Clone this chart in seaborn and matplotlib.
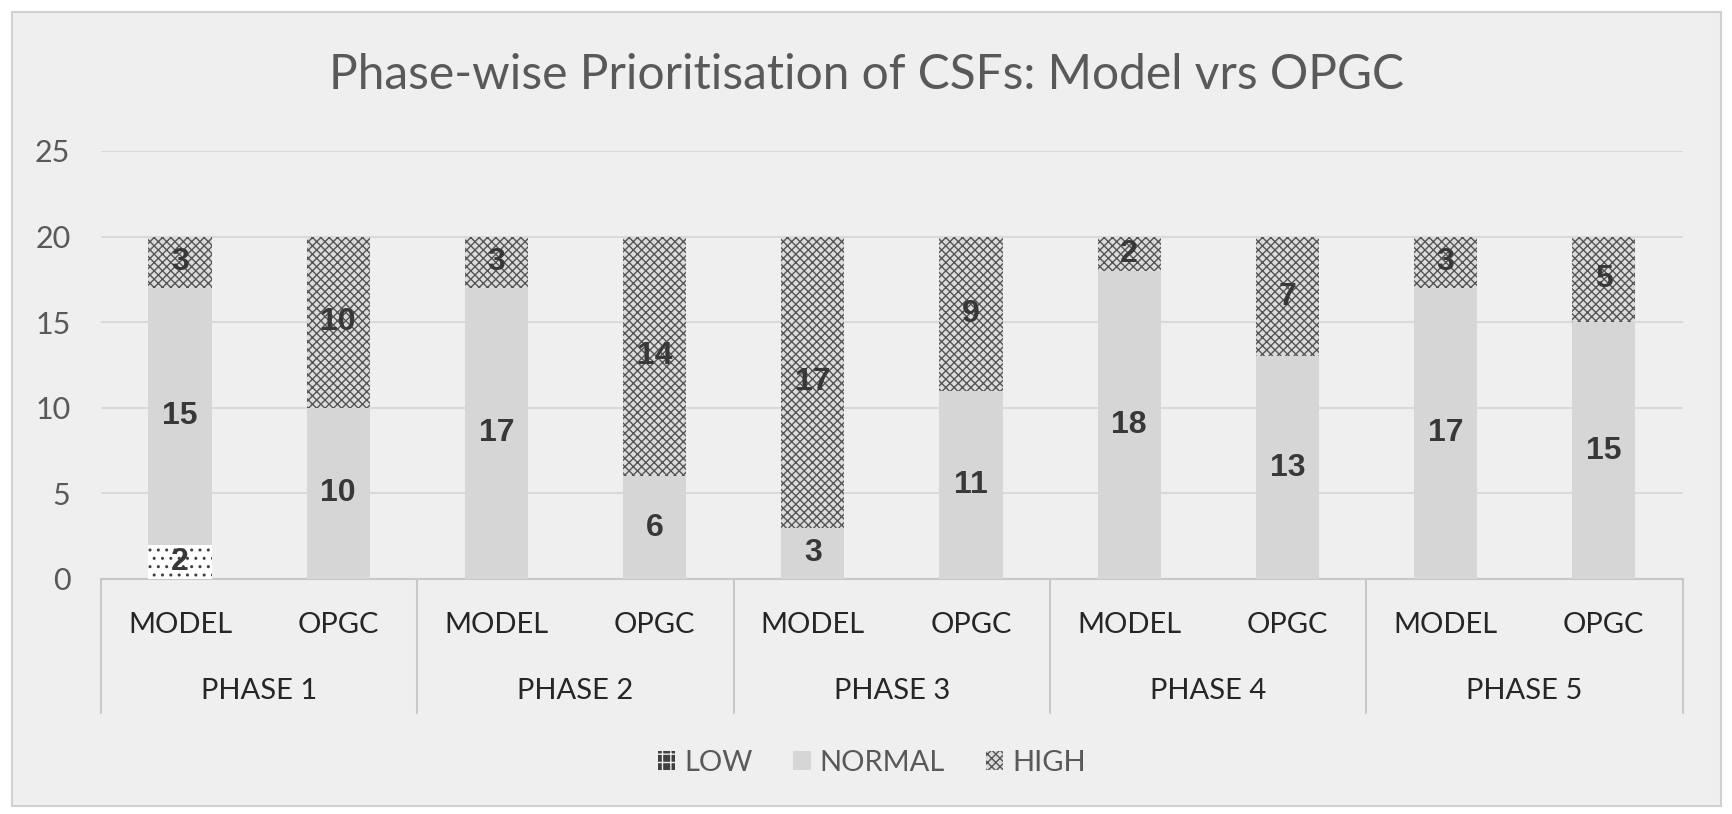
# Phase-wise Prioritisation of CSFs: Model vs OPGC - stacked bar recreation

import pandas as pd
import matplotlib.pyplot as plt
import seaborn as sns
from matplotlib.patches import Rectangle, Patch
from matplotlib.lines import Line2D

# Data
phases = ['PHASE 1', 'PHASE 2', 'PHASE 3', 'PHASE 4', 'PHASE 5']
sources = ['MODEL', 'OPGC']
low = [2, 0, 0, 0, 0, 0, 0, 0, 0, 0]
normal = [15, 10, 17, 6, 3, 11, 18, 13, 17, 15]
high = [3, 10, 3, 14, 17, 9, 2, 7, 3, 5]

rows = []
for i, ph in enumerate(phases):
    for j, src in enumerate(sources):
        k = i * 2 + j
        rows.append({'key': f'{ph} {src}', 'phase': ph, 'source': src,
                     'LOW': low[k], 'NORMAL': normal[k], 'HIGH': high[k]})
df = pd.DataFrame(rows)
df['low_top'] = df['LOW']
df['normal_top'] = df['LOW'] + df['NORMAL']
df['high_top'] = df['normal_top'] + df['HIGH']
order = df['key'].tolist()

sns.set_style('white')
plt.rcParams['font.family'] = ['Lato', 'DejaVu Sans']
plt.rcParams['hatch.linewidth'] = 1.0

bg = '#efefef'
fig = plt.figure(figsize=(17.33, 8.14), dpi=100, facecolor='white')
fig.patches.append(Rectangle((12 / 1733, 8 / 814), 1 - 24 / 1733, 1 - 20 / 814,
                             transform=fig.transFigure, facecolor=bg,
                             edgecolor='#d0d0d0', linewidth=1.5, zorder=-10))
ax = fig.add_axes([0.0583, 0.2887, 0.9127, 0.5258])
ax.set_facecolor(bg)

# stacked bars drawn by overlapping cumulative totals
sns.barplot(data=df, x='key', y='high_top', order=order, ax=ax, width=0.4,
            color='#dcdcdc', edgecolor='#555555', linewidth=0, hatch='xxxx',
            saturation=1, zorder=2)
sns.barplot(data=df, x='key', y='normal_top', order=order, ax=ax, width=0.4,
            color='#d6d6d6', linewidth=0, saturation=1, zorder=3)
sns.barplot(data=df, x='key', y='low_top', order=order, ax=ax, width=0.4,
            color='white', edgecolor='#404040', linewidth=0, hatch='..',
            saturation=1, zorder=4)

# segment labels
for i, r in df.iterrows():
    for col, base in [('LOW', 0), ('NORMAL', r['LOW']), ('HIGH', r['normal_top'])]:
        v = r[col]
        if v > 0:
            ax.text(i, base + v / 2, str(v), ha='center', va='center',
                    fontsize=23, fontweight='bold', color='#383838', zorder=5,
                    family='Liberation Sans')

ax.set_ylim(0, 25)
ax.set_xlim(-0.5, len(order) - 0.5)
ax.set_yticks(range(0, 26, 5))
ax.yaxis.grid(True, color='#d9d9d9', linewidth=1.5, zorder=0)
ax.set_axisbelow(True)
ax.tick_params(axis='y', labelsize=22, labelcolor='#595959', length=0, pad=22)
ax.set_xticks(range(len(order)))
ax.set_xticklabels(df['source'], fontsize=21, color='#262626')
ax.tick_params(axis='x', length=0, pad=24)
ax.set_xlabel('')
ax.set_ylabel('')
for s in ['left', 'right', 'top']:
    ax.spines[s].set_visible(False)
ax.spines['bottom'].set_color('#c8c8c8')
ax.spines['bottom'].set_linewidth(1.5)

# phase group labels and separators
trans = ax.get_xaxis_transform()
for i, ph in enumerate(phases):
    ax.text(i * 2 + 0.5, -0.262, ph, transform=trans, ha='center', va='center',
            fontsize=21, color='#262626')
for b in range(len(phases) + 1):
    ax.add_line(Line2D([b * 2 - 0.5, b * 2 - 0.5], [0, -0.313], transform=trans,
                       color='#c8c8c8', linewidth=1.5, clip_on=False))

fig.text(0.5, 1 - 75 / 814, 'Phase-wise Prioritisation of CSFs: Model vrs OPGC',
         fontsize=34.5, color='#595959', ha='center', va='center')

handles = [Patch(facecolor='#404040', edgecolor='#efefef', hatch='++', linewidth=0),
           Patch(facecolor='#d6d6d6', linewidth=0),
           Patch(facecolor='#dcdcdc', edgecolor='#555555', hatch='xxxx', linewidth=0)]
fig.legend(handles, ['LOW', 'NORMAL', 'HIGH'], loc='center', bbox_to_anchor=(0.503, 0.063),
           ncol=3, frameon=False, fontsize=21, labelcolor='#595959',
           handlelength=0.6, handleheight=0.6, handletextpad=0.3, columnspacing=1.4)

plt.savefig('out.png', dpi=100, facecolor='white')
